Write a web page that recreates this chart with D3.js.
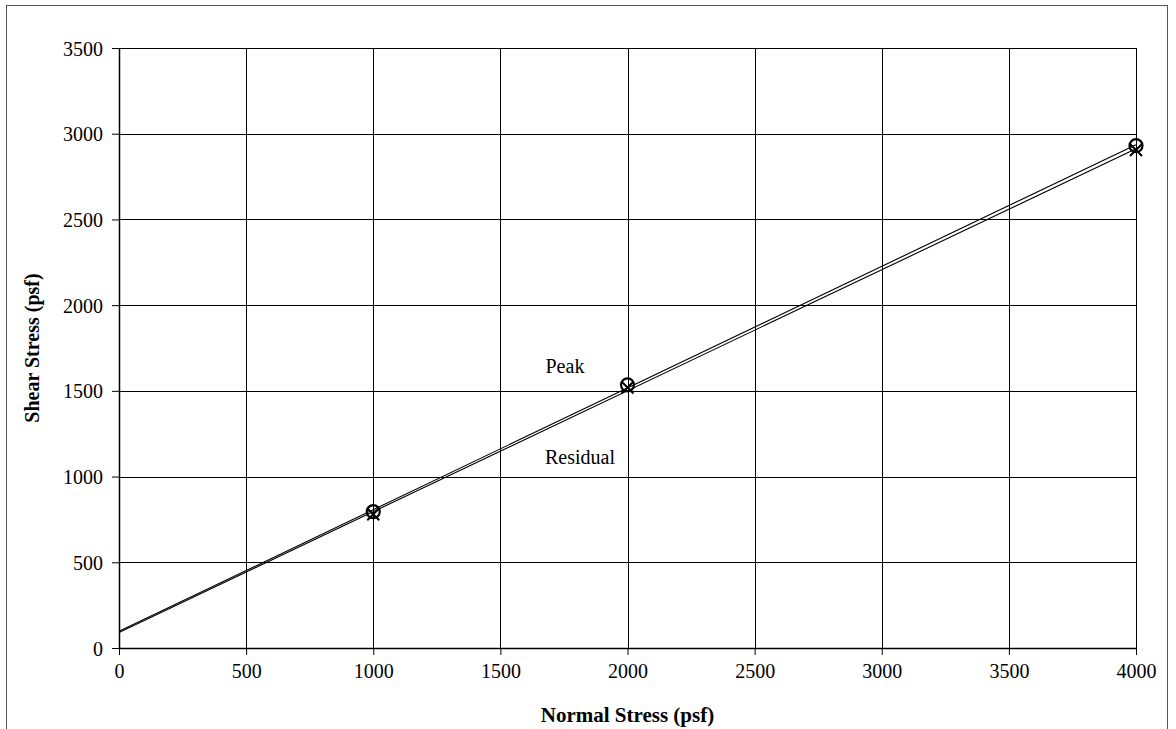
<!DOCTYPE html>
<html>
<head>
<meta charset="utf-8">
<script src="https://cdn.jsdelivr.net/npm/d3@7"></script>
<style>
body { margin: 0; background: #fff; }
text { font-family: "Liberation Serif", "Times New Roman", serif; fill: #000; }
</style>
</head>
<body>
<svg id="chart"></svg>
<script>
var xTicks = [0, 500, 1000, 1500, 2000, 2500, 3000, 3500, 4000];
var yTicks = [0, 500, 1000, 1500, 2000, 2500, 3000, 3500];

var normalStress = [1000, 2000, 4000];
var peakShear = [795, 1535, 2930];
var residualShear = [780, 1520, 2905];

// trend lines
var fitX = [0, 4000];
var peakFit = [97, 2936];
var residualFit = [90, 2912];

var svg = d3.select("#chart").attr("width", 1176).attr("height", 729),
    margin = {top: 48, right: 40, bottom: 81, left: 119},
    width = 1136 - margin.left,
    height = 648 - margin.top;

svg.append("rect")
	.attr("x", 6.5).attr("y", 5.5)
	.attr("width", 1161).attr("height", 760)
	.attr("fill", "none").attr("stroke", "#555").attr("stroke-width", 1);

var xScale = d3.scaleLinear().domain([0, 4000]).range([0, width]);
var yScale = d3.scaleLinear().domain([0, 3500]).range([height, 0]);

var g = svg.append("g")
	.attr("transform", "translate(" + margin.left + "," + margin.top + ")");

// grid
g.selectAll(".vgrid")
	.data(xTicks)
	.enter()
	.append("line")
	.attr("class", "vgrid")
	.attr("x1", function(d){ return Math.round(xScale(d)) + 0.5; })
	.attr("x2", function(d){ return Math.round(xScale(d)) + 0.5; })
	.attr("y1", 0).attr("y2", height)
	.attr("stroke", "#000").attr("stroke-width", 1);

g.selectAll(".hgrid")
	.data(yTicks)
	.enter()
	.append("line")
	.attr("class", "hgrid")
	.attr("y1", function(d){ return Math.round(yScale(d)) + 0.5; })
	.attr("y2", function(d){ return Math.round(yScale(d)) + 0.5; })
	.attr("x1", 0).attr("x2", width)
	.attr("stroke", "#000").attr("stroke-width", 1);

var bottomAxis = g.append("g")
	.attr("transform", "translate(0," + height + ")")
	.call(d3.axisBottom(xScale).tickValues(xTicks).tickFormat(d3.format("d")).tickSize(7).tickSizeOuter(0).tickPadding(9));

var leftAxis = g.append("g")
	.call(d3.axisLeft(yScale).tickValues(yTicks).tickFormat(d3.format("d")).tickSize(7).tickSizeOuter(0).tickPadding(9));

[bottomAxis, leftAxis].forEach(function(a){
	a.select(".domain").attr("stroke", "#000").attr("stroke-width", 1.5);
	a.selectAll(".tick line").attr("stroke", "#000");
	a.selectAll(".tick text")
		.style("font-family", "'Liberation Serif', 'Times New Roman', serif")
		.style("font-size", "20px")
		.attr("fill", "#000");
});
leftAxis.selectAll(".tick text").attr("dy", "0.35em");

// trend lines
var line = d3.line()
	.x(function(d){ return xScale(d[0]); })
	.y(function(d){ return yScale(d[1]); });

[peakFit, residualFit].forEach(function(fit){
	g.append("path")
		.datum(fitX.map(function(x, i){ return [x, fit[i]]; }))
		.attr("d", line)
		.attr("fill", "none")
		.attr("stroke", "#000")
		.attr("stroke-width", 1.1);
});

// residual markers (x)
var cross = 6;
normalStress.forEach(function(x, i){
	var cx = xScale(x), cy = yScale(residualShear[i]);
	g.append("path")
		.attr("d", "M" + (cx-cross) + "," + (cy-cross) + "L" + (cx+cross) + "," + (cy+cross) +
			"M" + (cx-cross) + "," + (cy+cross) + "L" + (cx+cross) + "," + (cy-cross))
		.attr("stroke", "#000").attr("stroke-width", 2);
});

// peak markers (o)
g.selectAll(".peak")
	.data(normalStress)
	.enter()
	.append("circle")
	.attr("class", "peak")
	.attr("cx", function(d){ return xScale(d); })
	.attr("cy", function(d, i){ return yScale(peakShear[i]); })
	.attr("r", 6.5)
	.attr("fill", "none")
	.attr("stroke", "#000")
	.attr("stroke-width", 2.2);

// labels
g.append("text")
	.attr("x", xScale(1754)).attr("y", yScale(1604))
	.attr("text-anchor", "middle")
	.style("font-size", "20px")
	.text("Peak");

g.append("text")
	.attr("x", xScale(1813)).attr("y", yScale(1073))
	.attr("text-anchor", "middle")
	.style("font-size", "20px")
	.text("Residual");

svg.append("text")
	.attr("x", margin.left + width/2).attr("y", 722)
	.attr("text-anchor", "middle")
	.attr("font-weight", "bold")
	.style("font-size", "21px")
	.text("Normal Stress (psf)");

svg.append("text")
	.attr("transform", "translate(39," + (margin.top + height/2) + ") rotate(-90)")
	.attr("text-anchor", "middle")
	.attr("font-weight", "bold")
	.style("font-size", "20px")
	.text("Shear Stress (psf)");
</script>
</body>
</html>
